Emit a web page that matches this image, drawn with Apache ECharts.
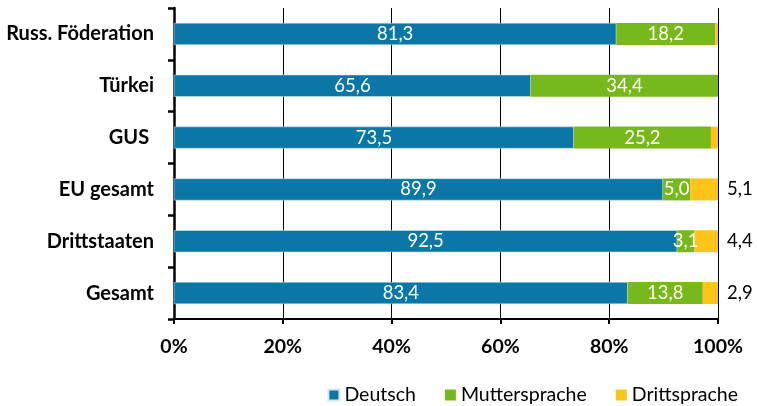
<!DOCTYPE html>
<html>
<head>
<meta charset="utf-8">
<script src="https://cdn.jsdelivr.net/npm/echarts@6/dist/echarts.min.js"></script>
<style>
  html, body { margin: 0; padding: 0; background: #fff; }
  #chart { width: 757px; height: 406px; }
</style>
</head>
<body>
<div id="chart"></div>
<script>
const categories = ['Russ. Föderation', 'Türkei', 'GUS ', 'EU gesamt', 'Drittstaaten', 'Gesamt']
const deutsch = [81.3, 65.6, 73.5, 89.9, 92.5, 83.4]
const mutter = [18.2, 34.4, 25.2, 5.0, 3.1, 13.8]
const dritt = [0.5, 0, 1.3, 5.1, 4.4, 2.9]
const xTicks = [0, 20, 40, 60, 80, 100]

const fontFamily = 'Lato, "DejaVu Sans", sans-serif'
const fmt = v => v.toFixed(1).replace('.', ',')

const chart = echarts.init(document.getElementById('chart'))
chart.setOption({
  animation: false,
  textStyle: { fontFamily: fontFamily },
  grid: { left: 174, right: 39, top: 8, bottom: 87 },
  legend: {
    right: 14,
    bottom: -4,
    itemWidth: 11,
    itemHeight: 11,
    itemGap: 29,
    itemTextGap: 7,
    icon: 'rect',
    textStyle: { fontSize: 19.5, color: '#000', fontFamily: fontFamily },
    data: ['Deutsch', 'Muttersprache', 'Drittsprache']
  },
  xAxis: {
    type: 'value',
    min: xTicks[0],
    max: xTicks[xTicks.length - 1],
    interval: 20,
    axisLine: { show: true, lineStyle: { color: '#000', width: 2 } },
    axisTick: { show: true, length: 5, lineStyle: { color: '#000', width: 2 } },
    axisLabel: {
      formatter: '{value}%',
      color: '#000',
      fontWeight: 'bold',
      fontSize: 19.5,
      margin: 18
    },
    splitLine: { show: true, lineStyle: { color: '#000', width: 1 } }
  },
  yAxis: {
    type: 'category',
    inverse: true,
    data: categories,
    axisLine: { show: true, lineStyle: { color: '#000', width: 2.5 } },
    axisTick: { show: true, length: 6, lineStyle: { color: '#000', width: 2.5 } },
    axisLabel: {
      color: '#000',
      fontWeight: 'bold',
      fontSize: 20,
      margin: 20
    }
  },
  series: [
    {
      name: 'Deutsch',
      type: 'bar',
      stack: 'total',
      barWidth: 22,
      data: deutsch,
      itemStyle: { color: '#0a77a6', borderColor: '#d6e9f2', borderWidth: 0.5 },
      label: {
        show: true,
        position: 'inside',
        color: '#fff',
        fontSize: 18.5,
        formatter: p => fmt(p.value)
      }
    },
    {
      name: 'Muttersprache',
      type: 'bar',
      stack: 'total',
      data: mutter,
      itemStyle: { color: '#77b81a' },
      label: {
        show: true,
        position: 'inside',
        color: '#fff',
        fontSize: 18.5,
        formatter: p => fmt(p.value)
      }
    },
    {
      name: 'Drittsprache',
      type: 'bar',
      stack: 'total',
      data: dritt,
      itemStyle: { color: '#fec518' },
      label: {
        show: true,
        position: 'right',
        distance: 9,
        color: '#000',
        fontSize: 18.5,
        formatter: p => (p.value >= 2 ? fmt(p.value) : '')
      }
    }
  ]
})
</script>
</body>
</html>
